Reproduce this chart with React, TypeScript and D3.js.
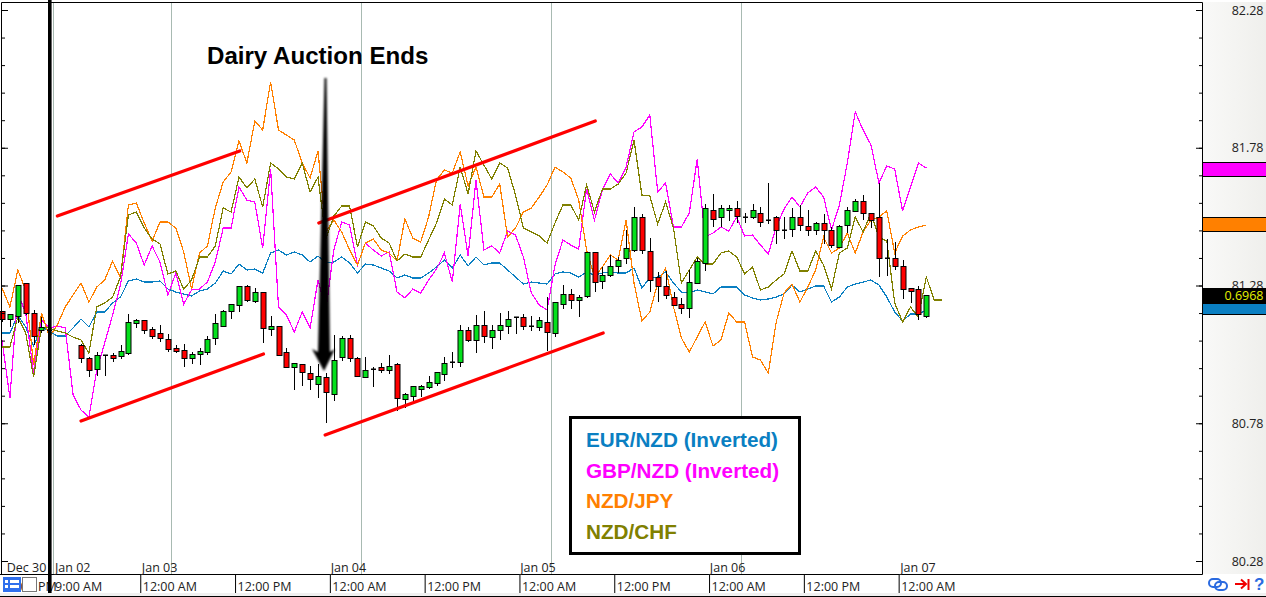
// App.tsx
import React, { useRef, useEffect } from "react";
import * as d3 from "d3";

// hourly bars. index -10 is the first bar, -3..-1 are the holiday gap.
// all prices in pips (0.0001 NZD/USD), overlays are rebased onto the same scale
const firstBar = -10;

const barOpen = [6952,6944,6947,6980,6950,6933,6933,null,null,null,
  6918,6905,6894,6908,6908,6907,6910,6940,6943,6934,6930,6924,6915,6913,6905,6909,6911,6925,6937,6952,6958,6977,6962,6971,
  6934,6937,6911,6896,6899,6890,6879,6886,6869,6906,6925,6905,6886,6894,6896,6893,6899,6864,6867,6874,6876,6880,6889,6901,
  6901,6933,6923,6938,6926,6933,6937,6946,6946,6937,6936,6941,6930,6959,6969,6963,6967,7011,6982,6988,6997,7005,7013,7046,
  7012,6986,6977,6966,6959,6955,6980,7000,7053,7046,7053,7055,7046,7046,7050,7043,7046,7033,7034,7046,7037,7033,7040,7033,
  7016,7038,7052,7062,7050,7046,7005,7005,6997,6975,6974,6947];
const barHigh = [6952,6949,6978,6980,6953,6946,6936,null,null,null,
  6919,6906,6911,6908,6910,6918,6949,6944,6943,6936,6938,6929,6918,6919,6911,6915,6927,6949,6953,6959,6977,6978,6975,6971,
  6947,6937,6915,6900,6899,6897,6899,6890,6928,6927,6928,6906,6906,6896,6900,6908,6900,6870,6877,6878,6887,6891,6906,6911,
  6938,6936,6948,6952,6938,6950,6952,6946,6949,6947,6946,6966,6961,6978,6974,6968,7011,7011,6996,7008,7006,7033,7056,7049,
  7025,6991,6992,6971,6965,6993,7005,7059,7069,7058,7058,7062,7050,7059,7056,7080,7047,7046,7055,7058,7053,7041,7049,7036,
  7038,7056,7064,7068,7050,7080,7024,7021,7003,6975,6977,6968];
const barLow = [6941,6936,6940,6948,6918,6930,6926,null,null,null,
  6900,6886,6887,6887,6901,6904,6908,6935,6929,6924,6921,6911,6910,6896,6899,6898,6908,6918,6936,6944,6951,6961,6960,6920,
  6927,6908,6895,6873,6877,6873,6865,6840,6862,6902,6901,6886,6886,6876,6890,6889,6852,6855,6860,6866,6874,6877,6882,6895,
  6896,6921,6910,6920,6914,6923,6929,6929,6933,6932,6932,6912,6926,6954,6954,6946,6965,6971,6974,6986,6990,6999,7011,7009,
  6971,6961,6964,6957,6949,6945,6980,6992,7036,7036,7042,7040,7040,7044,7036,7039,7019,7024,7026,7032,7027,7028,7019,7015,
  7015,7030,7051,7043,7035,6986,6987,6993,6964,6960,6943,6945];
const barClose = [6944,6949,6978,6950,6927,6936,6933,null,null,null,
  6905,6893,6908,6908,6905,6912,6941,6943,6933,6927,6925,6914,6912,6905,6909,6912,6924,6940,6952,6959,6977,6963,6971,6935,
  6937,6908,6896,6900,6891,6884,6887,6871,6903,6925,6905,6887,6893,6894,6893,6897,6865,6869,6877,6877,6881,6891,6900,6901,
  6933,6923,6938,6927,6933,6938,6944,6946,6937,6937,6943,6931,6961,6969,6963,6966,7011,6981,6988,6997,7003,7015,7046,7013,
  6983,6977,6968,6958,6955,6981,7002,7055,7044,7055,7055,7047,7046,7053,7041,7043,7033,7033,7046,7038,7033,7040,7033,7018,
  7037,7053,7062,7050,7043,7005,7005,6997,6974,6972,6949,6968];

const eurNzd = [6930,6930,6948,6936,6917,6936,6932,6927,6927,6935,
  6944,6936,6951,6951,6960,6966,6982,6984,6981,6981,6982,6974,6971,6969,6967,6972,6974,6980,6992,6989,6999,6993,6994,6990,
  7010,7013,7008,7011,7008,7001,7007,7000,7001,7006,7000,6990,6999,6998,6995,6992,6985,6988,6985,6985,6990,6996,7003,6995,
  7008,6997,7006,6998,7000,7000,6993,6986,6979,6981,6980,6979,6989,6991,6990,6986,6991,6988,6990,6991,6990,6990,6995,6975,
  6985,6986,6991,6980,6971,6970,6973,6971,6969,6976,6976,6976,6968,6965,6963,6964,6966,6969,6978,6971,6974,6977,6977,6961,
  6966,6976,6979,6981,6983,6978,6966,6951,6942,6949,6949,6953];
const gbpNzd = [6923,6865,6970,6950,6890,6943,6935,6937,6935,6868,
  6853,6846,6893,6920,6948,6978,7029,7020,6998,7017,7001,6968,6990,6959,6973,6974,6981,7001,7035,7035,7076,7063,7061,7015,
  7094,6956,6948,6931,6951,6935,6983,6953,7013,7041,7038,6998,7020,7013,7007,7011,6971,6965,6974,6970,6983,6994,7010,6981,
  7059,7007,7083,7013,7017,7010,7032,7028,7006,6970,6958,6953,6998,7023,7018,7014,7074,7043,7073,7089,7080,7096,7131,7136,
  7148,7071,7080,7036,7036,7050,7104,7026,7030,7036,7032,7046,7027,7028,7018,7009,7036,7054,7066,7056,7070,7076,7066,7033,
  7058,7100,7151,7133,7118,7080,7097,7094,7052,7076,7100,7095];
const nzdJpy = [6975,6956,6993,6973,6898,6950,6926,6938,6956,6968,
  6980,6961,6976,6983,7002,6985,7058,7060,7040,7022,7041,7041,7035,7011,6974,7010,7017,7055,7081,7091,7122,7100,7142,7133,
  7181,7133,7128,7123,7100,7085,7112,7031,7043,7031,7013,6998,7020,7024,7013,7010,7002,7044,7025,7021,7046,7083,7093,7090,
  7111,7077,7096,7066,7066,7079,7026,7035,7051,7055,7066,7078,7096,7091,7085,7063,7013,6986,6996,7008,7003,7043,6980,6942,
  6951,6980,6995,6956,6925,6911,6926,6941,6917,6923,6950,6941,6941,6906,6903,6890,6941,6970,6979,6961,6976,6993,7026,7010,
  7015,7030,7010,7031,7043,7046,7052,7010,7027,7033,7036,7038];
const nzdChf = [6916,6916,6946,6930,6886,6936,6935,6932,6930,6926,
  6923,6910,6956,6960,6966,6986,7048,7051,7035,7024,7019,6989,6992,6974,6983,7006,7006,7017,7055,7051,7086,7075,7084,7056,
  7100,7094,7086,7084,7100,7071,7086,7024,7047,7057,7057,7016,7041,7037,7025,7020,7002,7009,7006,7006,7023,7040,7064,7058,
  7096,7069,7112,7098,7084,7100,7095,7068,7035,7031,7027,7020,7040,7058,7058,7043,7078,7051,7074,7074,7079,7090,7123,7068,
  7067,7039,7061,7035,6980,6993,7006,6999,6999,7010,7012,7006,6989,6996,6973,6976,6983,6989,7012,6992,6992,7012,6998,6974,
  7010,7015,7046,7031,7050,7026,7022,6960,6941,6956,6946,6986,6963,6963];

const seriesNames = ["EUR/NZD (Inverted)", "GBP/NZD (Inverted)", "NZD/JPY", "NZD/CHF"];
const seriesColors = ["#0a7fc2", "#ff00ff", "#ff8000", "#808000"];
const seriesValues = [eurNzd, gbpNzd, nzdJpy, nzdChf];

// hand drawn channels: bar index and pips at both ends
const channels = [
  [-3, 7047, 20.1, 7112],
  [0, 6842, 23.1, 6909],
  [30.1, 7040, 65.1, 7142],
  [30.9, 6828, 66.1, 6930],
];

const dayLines = [-3.5, 11.45, 35.45, 59.5, 83.5];
const dayLabels = ["Dec 30", "Jan 02", "Jan 03", "Jan 04", "Jan 05", "Jan 06", "Jan 07"];
const dayLabelBars = [-9.4, -3.3, 7.7, 31.6, 55.6, 79.6, 103.7];
const hourLabels = ["9:00 PM", "9:00 AM", "12:00 AM", "12:00 PM", "12:00 AM", "12:00 PM", "12:00 AM", "12:00 PM", "12:00 AM", "12:00 PM", "12:00 AM"];
const hourBars = [-9.3, -3.6, 7.5, 19.5, 31.5, 43.5, 55.5, 67.5, 79.5, 91.5, 103.5];

const axisMajor = [82.28, 81.78, 81.28, 80.78, 80.28];
const lastPrice = "0.6968";
const title = "Dairy Auction Ends";

const font = "'Open Sans', 'Noto Sans', sans-serif";
const boldFont = "'Liberation Sans', Arial, sans-serif";

const App = () => {
  const ref = useRef<SVGSVGElement>(null);

  useEffect(() => {
    drawChart();
  }, []);

  const drawChart = () => {
    const svg = d3.select(ref.current);
    svg.selectAll("*").remove();

    const plotRight = 1202;
    const plotTop = 2;
    const plotBottom = 574;

    const x = d3.scaleLinear().domain([0, 100]).range([81, 871]);
    const y = d3.scaleLinear().domain([7263, 6666]).range([0, 597]);
    const yAxis = d3.scaleLinear().domain([80.28, 82.28]).range([561, 10]);

    const defs = svg.append("defs");
    const grad = defs.append("linearGradient").attr("id", "panel");
    grad.append("stop").attr("offset", "0%").attr("stop-color", "#f9f9f8");
    grad.append("stop").attr("offset", "100%").attr("stop-color", "#efefec");
    defs.append("filter").attr("id", "soft")
      .append("feGaussianBlur").attr("stdDeviation", 0.8);

    svg.append("rect").attr("width", 1266).attr("height", 597).attr("fill", "white");

    // price panel on the right
    svg.append("rect")
      .attr("x", plotRight).attr("y", plotTop)
      .attr("width", 1266 - plotRight).attr("height", plotBottom - plotTop)
      .attr("fill", "url(#panel)");

    // day grid
    svg.append("g").selectAll("line").data(dayLines).join("line")
      .attr("x1", (d) => Math.round(x(d)) + 0.5)
      .attr("x2", (d) => Math.round(x(d)) + 0.5)
      .attr("y1", plotTop).attr("y2", plotBottom)
      .attr("stroke", "#a8bab2");

    // overlays
    const line = d3.line<number>()
      .x((_, i) => x(i + firstBar))
      .y((d) => y(d));
    seriesValues.forEach((values, i) => {
      svg.append("path")
        .attr("d", line(values))
        .attr("fill", "none")
        .attr("stroke", seriesColors[i])
        .attr("stroke-width", 1.2)
        .attr("shape-rendering", "crispEdges");
    });

    // candles
    const bars = svg.append("g");
    barOpen.forEach((open, i) => {
      if (open === null) return;
      const close = barClose[i] as number;
      const cx = Math.round(x(i + firstBar));
      bars.append("line")
        .attr("x1", cx + 0.5).attr("x2", cx + 0.5)
        .attr("y1", y(barHigh[i] as number)).attr("y2", y(barLow[i] as number))
        .attr("stroke", "black");
      if (open === close) {
        bars.append("rect")
          .attr("x", cx - 2).attr("y", y(open) - 0.5)
          .attr("width", 5).attr("height", 1.5)
          .attr("fill", "black");
        return;
      }
      bars.append("rect")
        .attr("x", cx - 2)
        .attr("y", Math.round(y(Math.max(open, close))) + 0.5)
        .attr("width", 5)
        .attr("height", Math.abs(y(open) - y(close)))
        .attr("fill", close > open ? "#04e01c" : "#ff0000")
        .attr("stroke", "black");
    });

    // channels
    svg.append("g").selectAll("line").data(channels).join("line")
      .attr("x1", (d) => x(d[0])).attr("y1", (d) => y(d[1]))
      .attr("x2", (d) => x(d[2])).attr("y2", (d) => y(d[3]))
      .attr("stroke", "#ff0000")
      .attr("stroke-width", 3.2)
      .attr("stroke-linecap", "round");

    // frame
    svg.append("path")
      .attr("d", `M1.5,${plotBottom}V${plotTop + 0.5}H${plotRight + 0.5}V${plotBottom + 0.5}H0`)
      .attr("fill", "none")
      .attr("stroke", "black");

    // price ticks on both sides
    const minor = d3.range(80.28, 82.3, 0.1);
    const tickSides = [d3.axisRight(yAxis).tickPadding(0), d3.axisLeft(yAxis).tickPadding(0)];
    [2, plotRight].forEach((tx, i) => {
      const g = svg.append("g").attr("transform", `translate(${tx},0)`);
      g.call(tickSides[i].tickValues(minor).tickSize(3).tickFormat(() => ""));
      g.select(".domain").remove();
      const major = svg.append("g").attr("transform", `translate(${tx},0)`);
      major.call(tickSides[i].tickValues(axisMajor).tickSize(6).tickFormat(() => ""));
      major.select(".domain").remove();
    });

    // price labels
    const labels = svg.append("g").attr("transform", "translate(1263.5,0)");
    labels.call(
      d3.axisLeft(yAxis).tickValues(axisMajor).tickSize(0).tickPadding(0).tickFormat(d3.format(".2f"))
    );
    labels.select(".domain").remove();
    labels.selectAll("text")
      .attr("font-family", font).attr("font-size", 12.5).attr("fill", "#222");

    // colour tags, same order as the lines' last values
    const tags = [
      { top: 162, bottom: 176, fill: seriesColors[1] },
      { top: 217, bottom: 231, fill: seriesColors[2] },
      { top: 303, bottom: 314, fill: seriesColors[0] },
    ];
    tags.forEach((t) => {
      svg.append("rect")
        .attr("x", plotRight + 0.5).attr("y", t.top + 0.5)
        .attr("width", 64).attr("height", t.bottom - t.top)
        .attr("fill", t.fill).attr("stroke", "black");
    });
    svg.append("rect")
      .attr("x", plotRight).attr("y", 288)
      .attr("width", 64).attr("height", 15)
      .attr("fill", "black");
    svg.append("text")
      .attr("x", 1263.5).attr("y", 300)
      .attr("text-anchor", "end")
      .attr("font-family", font).attr("font-size", 12.5)
      .attr("fill", "#e6f000")
      .text(lastPrice);

    // time axis
    const hours = svg.append("g").attr("transform", `translate(0,${plotBottom})`);
    hours.call(
      d3.axisBottom(x).tickValues(hourBars).tickSize(19).tickPadding(0)
        .tickFormat((_, i) => hourLabels[i])
    );
    hours.select(".domain").remove();
    hours.selectAll("text")
      .attr("text-anchor", "start")
      .attr("x", 2).attr("y", 8)
      .attr("font-family", font).attr("font-size", 12.5).attr("fill", "#222");
    hours.selectAll(".tick").filter((_, i) => i < 2).select("line").remove();

    svg.append("g").selectAll("text").data(dayLabels).join("text")
      .attr("x", (_, i) => x(dayLabelBars[i]))
      .attr("y", 572)
      .attr("font-family", font).attr("font-size", 12.5).attr("fill", "#222")
      .text((d) => d);

    // bottom strip
    svg.append("rect").attr("x", 0).attr("y", 593).attr("width", 1266).attr("height", 3).attr("fill", "#f0f0f0");
    svg.append("rect").attr("x", 0).attr("y", 596).attr("width", 1266).attr("height", 1).attr("fill", "black");

    // toolbar icons
    const menu = svg.append("g");
    menu.append("rect").attr("x", 3).attr("y", 577).attr("width", 18).attr("height", 15).attr("fill", "#2f6fed");
    [580, 585].forEach((yy) => {
      menu.append("rect").attr("x", 5).attr("y", yy).attr("width", 3).attr("height", 3).attr("fill", "white");
      menu.append("rect").attr("x", 10).attr("y", yy).attr("width", 9).attr("height", 3).attr("fill", "white");
    });
    menu.append("rect").attr("x", 22.5).attr("y", 577.5).attr("width", 14).attr("height", 14)
      .attr("fill", "white").attr("stroke", "#777");

    const icons = svg.append("g");
    icons.append("rect").attr("x", 1209).attr("y", 579).attr("width", 12).attr("height", 8).attr("rx", 4)
      .attr("fill", "none").attr("stroke", "#2a6ae0").attr("stroke-width", 2);
    icons.append("rect").attr("x", 1215).attr("y", 582).attr("width", 12).attr("height", 8).attr("rx", 4)
      .attr("fill", "none").attr("stroke", "#2a6ae0").attr("stroke-width", 2);
    icons.append("path")
      .attr("d", "M1235,584H1246M1241,579.5L1246,584L1241,588.5M1248.5,579V590")
      .attr("fill", "none").attr("stroke", "#f00000").attr("stroke-width", 2);
    icons.append("text")
      .attr("x", 1254).attr("y", 590)
      .attr("font-family", boldFont).attr("font-size", 17).attr("font-weight", "bold")
      .attr("fill", "#2a6ae0")
      .text("?");

    // heavy marker at the start of the chart
    svg.append("rect").attr("x", 48).attr("y", 0).attr("width", 3.6).attr("height", 593).attr("fill", "black");

    // annotation
    svg.append("path")
      .attr("d", "M324.5,78L326.5,78L330,352L335,349L324,371L312,349L318,352Z")
      .attr("fill", "black")
      .attr("filter", "url(#soft)");
    svg.append("text")
      .attr("x", 207).attr("y", 64)
      .attr("font-family", boldFont).attr("font-size", 24.1).attr("font-weight", "bold")
      .attr("fill", "black")
      .text(title);

    // legend
    svg.append("rect")
      .attr("x", 570.5).attr("y", 417.5)
      .attr("width", 229).attr("height", 136)
      .attr("fill", "white").attr("stroke", "black").attr("stroke-width", 3);
    const legendY = [447, 478, 508, 539];
    svg.append("g").selectAll("text").data(seriesNames).join("text")
      .attr("x", 586)
      .attr("y", (_, i) => legendY[i])
      .attr("font-family", boldFont).attr("font-size", 20.7).attr("font-weight", "bold")
      .attr("fill", (_, i) => seriesColors[i])
      .text((d) => d);
  };

  return (
    <svg
      ref={ref}
      width={1266}
      height={597}
      style={{ position: "absolute", left: 0, top: 0 }}
    ></svg>
  );
};

export default App;
